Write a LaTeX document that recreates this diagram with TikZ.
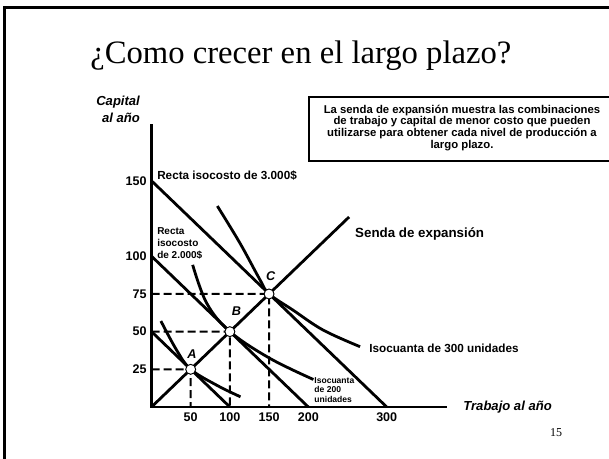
\documentclass[tikz,border=0pt]{standalone}
\usepackage{fontspec}
\setmainfont{Liberation Serif}
\setsansfont{Liberation Sans}
\usepackage{tikz}

\begin{document}
\begin{tikzpicture}[x=0.75pt, y=0.75pt,
  every node/.style={font=\sffamily\bfseries, inner sep=0pt},
  curve/.style={line width=2.1pt},
  guide/.style={line width=1.5pt, dash pattern=on 6pt off 3pt},
  dot/.style={circle, draw, line width=0.7pt, fill=white, minimum size=7.5pt, inner sep=0pt},
  axistitle/.style={font=\sffamily\bfseries\itshape\fontsize{9.8}{12.5}\selectfont},
  ticklab/.style={font=\sffamily\bfseries\fontsize{9.4}{11}\selectfont}]
  \useasboundingbox (0,0) rectangle (609,459);
  % slide frame and title
  \draw[line width=1.9pt] (4.7,-20) -- (4.7,451.7) -- (630,451.7);
  \node[anchor=base west, font=\rmfamily\fontsize{24.5}{28}\selectfont] (title) at (90,395)
    {¿Como crecer en el largo plazo?};
  % note box
  \draw[line width=0.8pt] (309,298) rectangle (620,362);
  \node[align=center, font=\sffamily\bfseries\fontsize{8.5}{7.9}\selectfont] (note) at (462,331)
    {La senda de expansión muestra las combinaciones\\
     de trabajo y capital de menor costo que pueden\\
     utilizarse para obtener cada nivel de producción a\\
     largo plazo.};
  \node[font=\rmfamily\fontsize{9}{10}\selectfont] (page) at (556,26) {15};
  % chart
  \begin{scope}[shift={(151.5,52)}, xscale=39.2, yscale=37.7]
    \coordinate (O) at (0,0);
    \coordinate (A) at (1,1);
    \coordinate (B) at (2,2);
    \coordinate (C) at (3,3);
    \draw[line width=1.8pt] (0,7.5) -- (O) -- (7.54,0);
    \foreach \v/\t in {6/150,4/100,3/75,2/50,1/25}
      \node[ticklab, anchor=east] (ytick\t) at (-0.12,\v) {\t};
    \foreach \v/\t in {1/50,2/100,3/150,4/200,6/300}
      \node[ticklab] (xtick\t) at (\v,-0.27) {\t};
    \node[axistitle, align=right, anchor=east] (ytitle) at (-0.29,7.89) {Capital\\al año};
    \node[axistitle, anchor=west] (xtitle) at (7.95,0) {Trabajo al año};
    % guides
    \foreach \p/\v in {A/1,B/2,C/3}
      \draw[guide] (0,\v) -- (\p) -- (\v,0);
    % isocost lines and expansion path
    \draw[curve] (0,6) -- (6,0);
    \draw[curve] (0,4) -- (4,0);
    \draw[curve] (0,2) -- (2,0);
    \draw[curve] (O) -- (5.04,5.04);
    % isoquants
    \draw[curve] plot[smooth, tension=0.6] coordinates
      {(0.24,2.28) (0.64,1.51) (1,1) (1.66,0.58) (2.27,0.27)};
    \draw[curve] plot[smooth, tension=0.6] coordinates
      {(1.05,3.77) (1.41,2.75) (2,2) (3.02,1.29) (4.13,0.73)};
    \draw[curve] plot[smooth, tension=0.6] coordinates
      {(1.68,5.33) (2.26,4.34) (2.77,3.37) (3,3) (3.61,2.57) (4.38,2.04) (5.32,1.60)};
    \foreach \p in {A,B,C}
      \node[dot] (dot\p) at (\p) {};
    \node[font=\sffamily\bfseries\itshape\fontsize{9.5}{11}\selectfont] (labA) at (1.03,1.41) {A};
    \node[font=\sffamily\bfseries\itshape\fontsize{9.5}{11}\selectfont] (labB) at (2.17,2.53) {B};
    \node[font=\sffamily\bfseries\itshape\fontsize{9.5}{11}\selectfont] (labC) at (3.04,3.46) {C};
    % curve labels
    \node[anchor=west, font=\sffamily\bfseries\fontsize{8.8}{10}\selectfont] (cost3) at (0.14,6.15)
      {Recta isocosto de 3.000\$};
    \node[anchor=west, align=left, font=\sffamily\bfseries\fontsize{7.5}{9}\selectfont] (cost2) at (0.14,4.35)
      {Recta\\isocosto\\de 2.000\$};
    \node[anchor=west, font=\sffamily\bfseries\fontsize{10}{12}\selectfont] (senda) at (5.19,4.59)
      {Senda de expansión};
    \node[anchor=west, font=\sffamily\bfseries\fontsize{8.8}{10}\selectfont] (iso300) at (5.55,1.56)
      {Isocuanta de 300 unidades};
    \node[anchor=west, align=left, font=\sffamily\bfseries\fontsize{6.4}{7.3}\selectfont] (iso200) at (4.15,0.45)
      {Isocuanta\\de 200\\unidades};
  \end{scope}
\end{tikzpicture}
\end{document}
